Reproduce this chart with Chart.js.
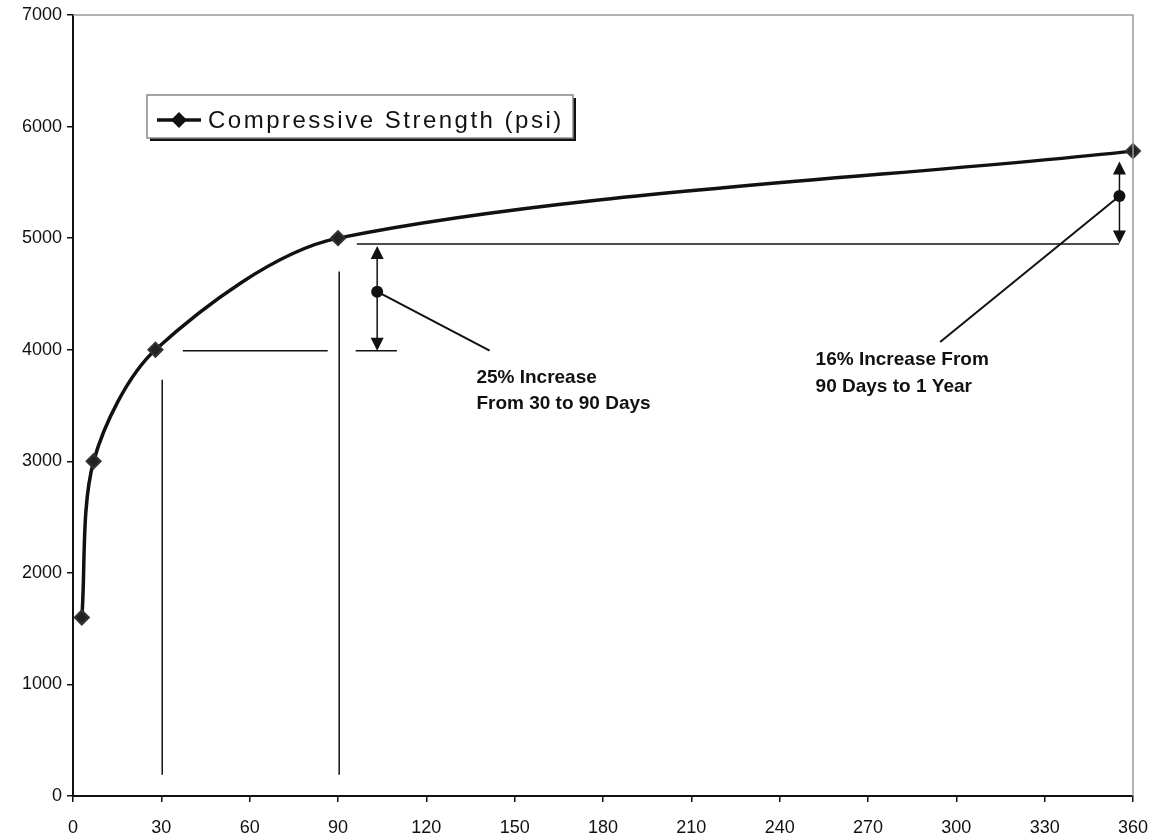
<!DOCTYPE html>
<html>
<head>
<meta charset="utf-8">
<script src="https://cdn.jsdelivr.net/npm/chart.js@4.4.1/dist/chart.umd.min.js"></script>
<style>
  html, body { margin: 0; padding: 0; background: #fff; }
  #wrap { width: 1152px; height: 840px; }
</style>
</head>
<body>
<div id="wrap"><canvas id="myChart"></canvas></div>
<script>
// age in days vs compressive strength
var ages = [3, 7, 28, 90, 360];
var strength = [1600, 3000, 4000, 5000, 5780];
var seriesLabel = 'Compressive Strength (psi)';
var xTicks = [0, 30, 60, 90, 120, 150, 180, 210, 240, 270, 300, 330, 360];
var yTicks = [0, 1000, 2000, 3000, 4000, 5000, 6000, 7000];

// annotation lines [x1, y1, x2, y2] in days / psi
var guideLines = [
  [30.3, 190, 30.3, 3730],
  [90.4, 190, 90.4, 4700],
  [37.3, 3991, 86.5, 3991],
  [96, 3991, 110, 3991],
  [96.4, 4947, 355.3, 4947]
];
// double arrows [x, lowTip, highTip, dot]
var arrows = [
  [103.3, 3991, 4930, 4520],
  [355.4, 4953, 5688, 5378]
];
// leader lines from dot to label [x1, y1, x2, y2]
var leaders = [
  [103.3, 4520, 141.5, 3991],
  [355.4, 5378, 294.5, 4069]
];
// note text, x = left edge, y = baseline
var noteText = ['25% Increase', 'From 30 to 90 Days', '16% Increase From', '90 Days to 1 Year'];
var noteX = [137, 137, 252.2, 252.2];
var noteY = [3706, 3465, 3867, 3617];

var FONT = "'Liberation Sans', Arial, Helvetica, sans-serif";

var annotations = {
  id: 'annotations',
  afterDatasetsDraw: function (chart) {
    var ctx = chart.ctx;
    var xs = chart.scales.x, ys = chart.scales.y;
    ctx.save();
    ctx.strokeStyle = '#111';
    ctx.fillStyle = '#111';

    // thin guides
    ctx.lineWidth = 1.5;
    guideLines.forEach(function (l) {
      ctx.beginPath();
      ctx.moveTo(xs.getPixelForValue(l[0]), ys.getPixelForValue(l[1]));
      ctx.lineTo(xs.getPixelForValue(l[2]), ys.getPixelForValue(l[3]));
      ctx.stroke();
    });

    // leaders
    ctx.lineWidth = 2;
    leaders.forEach(function (l) {
      ctx.beginPath();
      ctx.moveTo(xs.getPixelForValue(l[0]), ys.getPixelForValue(l[1]));
      ctx.lineTo(xs.getPixelForValue(l[2]), ys.getPixelForValue(l[3]));
      ctx.stroke();
    });

    // double arrows with dot
    arrows.forEach(function (a) {
      var x = xs.getPixelForValue(a[0]);
      var lo = ys.getPixelForValue(a[1]);
      var hi = ys.getPixelForValue(a[2]);
      var d = ys.getPixelForValue(a[3]);
      ctx.lineWidth = 1.5;
      ctx.beginPath();
      ctx.moveTo(x, hi + 10);
      ctx.lineTo(x, lo - 10);
      ctx.stroke();
      ctx.beginPath();
      ctx.moveTo(x, hi);
      ctx.lineTo(x - 6.5, hi + 13);
      ctx.lineTo(x + 6.5, hi + 13);
      ctx.closePath();
      ctx.fill();
      ctx.beginPath();
      ctx.moveTo(x, lo);
      ctx.lineTo(x - 6.5, lo - 13);
      ctx.lineTo(x + 6.5, lo - 13);
      ctx.closePath();
      ctx.fill();
      ctx.beginPath();
      ctx.arc(x, d, 6, 0, Math.PI * 2);
      ctx.fill();
    });

    // notes
    ctx.font = 'bold 19px ' + FONT;
    ctx.textAlign = 'left';
    ctx.textBaseline = 'alphabetic';
    for (var i = 0; i < noteText.length; i++) {
      ctx.fillText(noteText[i], xs.getPixelForValue(noteX[i]), ys.getPixelForValue(noteY[i]));
    }
    ctx.restore();
  },
  afterDraw: function (chart) {
    var ctx = chart.ctx;
    var area = chart.chartArea;
    ctx.save();
    // faint top / right frame
    ctx.strokeStyle = '#9a9a9a';
    ctx.lineWidth = 1.5;
    ctx.beginPath();
    ctx.moveTo(area.left, area.top);
    ctx.lineTo(area.right, area.top);
    ctx.lineTo(area.right, area.bottom);
    ctx.stroke();

    // legend box
    var bx = 147, by = 95, bw = 426, bh = 43;
    ctx.fillStyle = '#fff';
    ctx.fillRect(bx, by, bw, bh);
    ctx.fillStyle = '#111';
    ctx.fillRect(bx + 3, by + bh, bw, 3);
    ctx.fillRect(bx + bw, by + 3, 3, bh);
    ctx.strokeStyle = '#888';
    ctx.lineWidth = 1.5;
    ctx.strokeRect(bx, by, bw, bh);

    var ly = by + 25;
    ctx.strokeStyle = '#111';
    ctx.lineWidth = 3.5;
    ctx.beginPath();
    ctx.moveTo(bx + 10, ly);
    ctx.lineTo(bx + 54, ly);
    ctx.stroke();
    ctx.beginPath();
    ctx.moveTo(bx + 32, ly - 8);
    ctx.lineTo(bx + 40, ly);
    ctx.lineTo(bx + 32, ly + 8);
    ctx.lineTo(bx + 24, ly);
    ctx.closePath();
    ctx.fill();

    ctx.font = '24px ' + FONT;
    if ('letterSpacing' in ctx) ctx.letterSpacing = '2.5px';
    ctx.textAlign = 'left';
    ctx.textBaseline = 'alphabetic';
    ctx.fillText(chart.data.datasets[0].label, bx + 61, by + 33);
    ctx.restore();
  }
};

var ctx = document.getElementById('myChart');
var myChart = new Chart(ctx, {
  type: 'line',
  data: {
    datasets: [{
      label: seriesLabel,
      data: ages.map(function (a, i) { return { x: a, y: strength[i] }; }),
      borderColor: '#111',
      backgroundColor: '#111',
      borderWidth: 3.5,
      tension: 0.3,
      pointStyle: 'rectRot',
      pointRadius: 7,
      pointBorderWidth: 2,
      pointBackgroundColor: '#222',
      pointBorderColor: '#333',
      clip: false
    }]
  },
  options: {
    responsive: true,
    maintainAspectRatio: false,
    animation: false,
    events: [],
    layout: { padding: { top: 15, right: 19, left: 0, bottom: 0 } },
    plugins: {
      legend: { display: false },
      tooltip: { enabled: false }
    },
    scales: {
      x: {
        type: 'linear',
        min: 0,
        max: 360,
        afterBuildTicks: function (axis) {
          axis.ticks = xTicks.map(function (v) { return { value: v }; });
        },
        afterFit: function (axis) {
          axis.height = 44;
          axis.paddingLeft = 0;
          axis.paddingRight = 0;
        },
        grid: { display: true, drawOnChartArea: false, drawTicks: true, tickLength: 6, color: '#111', lineWidth: 1.5 },
        border: { display: true, color: '#111', width: 2 },
        ticks: {
          color: '#111', padding: 15, maxRotation: 0, font: { family: FONT, size: 18 },
          callback: function (v) { return String(v); }
        }
      },
      y: {
        type: 'linear',
        min: 0,
        max: 7000,
        afterBuildTicks: function (axis) {
          axis.ticks = yTicks.map(function (v) { return { value: v }; });
        },
        afterFit: function (axis) {
          axis.width = 73;
          axis.paddingTop = 0;
          axis.paddingBottom = 0;
        },
        grid: { display: true, drawOnChartArea: false, drawTicks: true, tickLength: 6, color: '#111', lineWidth: 1.5 },
        border: { display: true, color: '#111', width: 2 },
        ticks: {
          color: '#111', padding: 5, font: { family: FONT, size: 18 },
          callback: function (v) { return String(v); }
        }
      }
    }
  },
  plugins: [annotations]
});
</script>
</body>
</html>
